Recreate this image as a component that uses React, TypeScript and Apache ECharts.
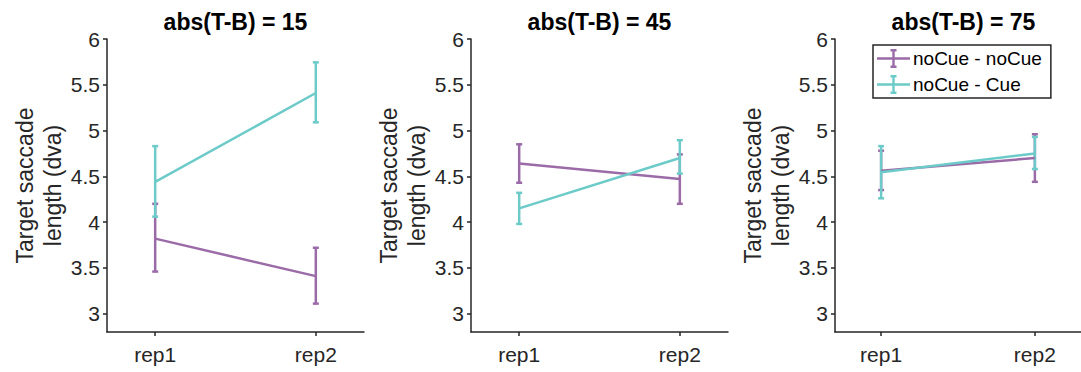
import { useEffect, useRef } from 'react';
import * as echarts from 'echarts';

const categories = ['rep1', 'rep2'];
const panelTitles = ['abs(T-B) = 15', 'abs(T-B) = 45', 'abs(T-B) = 75'];
const seriesNames = ['noCue - noCue', 'noCue - Cue'];
const yTicks = [3, 3.5, 4, 4.5, 5, 5.5, 6];
const yAxisTitle = 'Target saccade\nlength (dva)';

// per panel: [rep1, rep2]
const noCueNoCueMean = [[3.82, 3.41], [4.64, 4.47], [4.56, 4.7]];
const noCueNoCueLow = [[3.46, 3.11], [4.43, 4.2], [4.35, 4.44]];
const noCueNoCueHigh = [[4.2, 3.72], [4.85, 4.74], [4.78, 4.96]];

const noCueCueMean = [[4.44, 5.41], [4.15, 4.7], [4.545, 4.75]];
const noCueCueLow = [[4.06, 5.09], [3.98, 4.53], [4.26, 4.58]];
const noCueCueHigh = [[4.83, 5.745], [4.32, 4.895], [4.83, 4.93]];

const PURPLE = '#9B6BA8';
const CYAN = '#6CCBC9';
const AXIS = '#262626';
const FONT = '"Liberation Sans", Arial, Helvetica, sans-serif';

const gridLefts = [107, 471, 835];
const GRID_TOP = 39;
const GRID_H = 293;
const GRID_W = 257;

const legendIcon =
  'path://M0,8.3h33v2.4h-33Z M15.3,0h2.4v19h-2.4Z M13.5,0h6v2.4h-6Z M13.5,16.6h6v2.4h-6Z';

function errRender(color: string) {
  return (params: any, api: any) => {
    const x = api.value(0);
    const lo = api.coord([x, api.value(1)]);
    const hi = api.coord([x, api.value(2)]);
    const cap = 3;
    const style = { stroke: color, lineWidth: 2.5, fill: 'none' };
    return {
      type: 'group',
      children: [
        { type: 'line', shape: { x1: lo[0], y1: lo[1], x2: hi[0], y2: hi[1] }, style },
        { type: 'line', shape: { x1: lo[0] - cap, y1: lo[1], x2: lo[0] + cap, y2: lo[1] }, style },
        { type: 'line', shape: { x1: hi[0] - cap, y1: hi[1], x2: hi[0] + cap, y2: hi[1] }, style },
      ],
    };
  };
}

export default function App() {
  const ref = useRef<HTMLDivElement>(null);
  useEffect(() => {
    if (!ref.current) return;
    const chart = echarts.init(ref.current, null, { renderer: 'svg' });

    const grids: any[] = [];
    const xAxes: any[] = [];
    const yAxes: any[] = [];
    const series: any[] = [];
    const graphics: any[] = [];

    const groups = [
      { name: seriesNames[0], color: PURPLE, mean: noCueNoCueMean, low: noCueNoCueLow, high: noCueNoCueHigh },
      { name: seriesNames[1], color: CYAN, mean: noCueCueMean, low: noCueCueLow, high: noCueCueHigh },
    ];

    panelTitles.forEach((t, p) => {
      grids.push({ left: gridLefts[p], top: GRID_TOP, width: GRID_W, height: GRID_H, containLabel: false });
      xAxes.push({
        type: 'value',
        gridIndex: p,
        min: 0.7,
        max: 2.3,
        axisLine: { onZero: false, lineStyle: { color: AXIS, width: 1.5 } },
        axisTick: { show: true, customValues: [1, 2], length: 4, lineStyle: { color: AXIS, width: 1.5 } },
        axisLabel: {
          customValues: [1, 2],
          formatter: (v: number) => categories[Math.round(v) - 1] ?? '',
          color: AXIS,
          fontSize: 21,
          fontFamily: FONT,
          margin: 12,
        },
        splitLine: { show: false },
      });
      yAxes.push({
        type: 'value',
        gridIndex: p,
        min: 2.8,
        max: 6,
        name: yAxisTitle,
        nameLocation: 'middle',
        nameRotate: 90,
        nameGap: 40,
        nameTextStyle: { color: AXIS, fontSize: 23, fontFamily: FONT, lineHeight: 28 },
        axisLine: { lineStyle: { color: AXIS, width: 1.5 } },
        axisTick: { show: true, customValues: yTicks, length: 4, lineStyle: { color: AXIS, width: 1.5 } },
        axisLabel: {
          customValues: yTicks,
          formatter: (v: number) => String(v),
          color: AXIS,
          fontSize: 21,
          fontFamily: FONT,
          margin: 7,
        },
        splitLine: { show: false },
      });
      graphics.push({
        type: 'text',
        x: gridLefts[p] + GRID_W / 2,
        y: 22,
        style: {
          text: t,
          font: `bold 23px ${FONT}`,
          fill: '#000',
          textAlign: 'center',
          textVerticalAlign: 'middle',
        },
      });
      groups.forEach((g) => {
        series.push({
          type: 'line',
          name: g.name,
          xAxisIndex: p,
          yAxisIndex: p,
          data: g.mean[p].map((m, i) => [i + 1, m]),
          symbol: 'none',
          color: g.color,
          lineStyle: { color: g.color, width: 2.5 },
          itemStyle: { color: g.color },
        });
        series.push({
          type: 'custom',
          name: g.name + ' err',
          xAxisIndex: p,
          yAxisIndex: p,
          data: g.low[p].map((lo, i) => [i + 1, lo, g.high[p][i]]),
          renderItem: errRender(g.color),
          encode: { x: 0, y: [1, 2] },
          silent: true,
        });
      });
    });

    chart.setOption({
      animation: false,
      backgroundColor: '#ffffff',
      grid: grids,
      xAxis: xAxes,
      yAxis: yAxes,
      series,
      graphic: graphics,
      legend: {
        data: seriesNames,
        orient: 'vertical',
        left: 873,
        top: 45,
        icon: legendIcon,
        itemWidth: 33,
        itemHeight: 19,
        itemGap: 7,
        padding: [4, 9, 4, 4],
        borderColor: AXIS,
        borderWidth: 1.5,
        backgroundColor: '#fff',
        itemStyle: { borderWidth: 0 },
        textStyle: { fontSize: 19, fontFamily: FONT, color: '#000', lineHeight: 19, padding: [0, 0, 0, -2] },
        selectedMode: false,
      },
    });
    return () => chart.dispose();
  }, []);
  return (
    <div
      ref={ref}
      style={{ position: 'fixed', left: 0, top: 0, width: 1081, height: 372, background: '#fff' }}
    />
  );
}
